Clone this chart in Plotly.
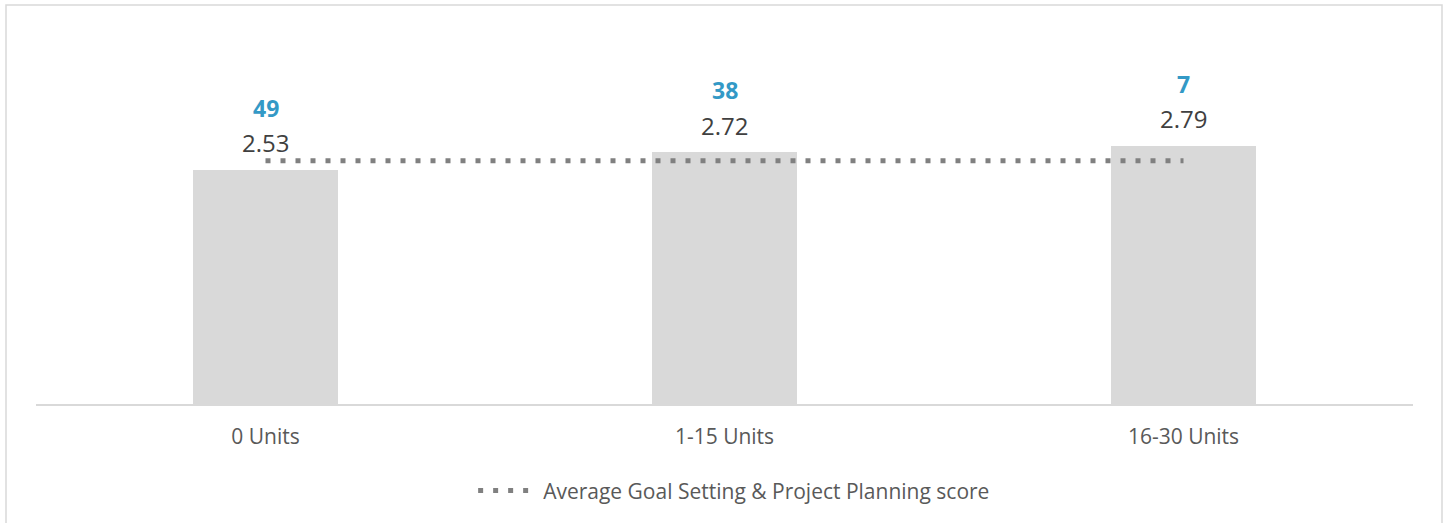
import plotly.graph_objects as go

categories = ["0 Units", "1-15 Units", "16-30 Units"]
scores = [2.53, 2.72, 2.79]
counts = [49, 38, 7]
avg_score = [2.63, 2.63, 2.63]
legend_name = "Average Goal Setting & Project Planning score"

FONT = "Open Sans"
W, H = 1448, 523
L, R, T, B = 36, 35, 34, 119

fig = go.Figure()
fig.add_trace(go.Bar(
    x=categories, y=scores, width=0.314,
    marker=dict(color="#d9d9d9", line=dict(width=0)),
    showlegend=False, hoverinfo="skip",
))
fig.add_trace(go.Scatter(
    x=categories, y=avg_score, mode="lines",
    line=dict(color="#808080", width=5, dash="5px,10px"),
    name=legend_name, showlegend=True,
))

for c, s, n in zip(categories, scores, counts):
    fig.add_annotation(x=c, y=s, text=f"{s:.2f}", showarrow=False,
                       yanchor="middle", yshift=27,
                       font=dict(family=FONT, size=24, color="#404040"))
    fig.add_annotation(x=c, y=s, text=f"<b>{n}</b>", showarrow=False,
                       yanchor="middle", yshift=62,
                       font=dict(family=FONT, size=23, color="#3399C6"))

pw = W - L - R
ph = H - T - B
fig.add_shape(type="rect", xref="paper", yref="paper",
              x0=(6 - L) / pw, x1=(1442 - L) / pw,
              y0=-1.0, y1=(404 - 5) / ph,
              line=dict(color="#d9d9d9", width=1.5), fillcolor="rgba(0,0,0,0)",
              layer="below")

fig.update_layout(
    width=W, height=H,
    margin=dict(l=L, r=R, t=T, b=B),
    paper_bgcolor="white", plot_bgcolor="white",
    font=dict(family=FONT, color="#595959"),
    bargap=0,
    xaxis=dict(showgrid=False, zeroline=False, showline=True,
               linecolor="#d9d9d9", linewidth=1.5, ticks="",
               ticklabelstandoff=13,
               tickfont=dict(family=FONT, size=21, color="#595959"),
               fixedrange=True),
    yaxis=dict(range=[0, 4.0], visible=False, fixedrange=True),
    legend=dict(orientation="h", x=0.507, xanchor="center", y=-0.235,
                yanchor="middle", itemwidth=60,
                font=dict(family=FONT, size=21, color="#595959")),
    showlegend=True,
)

fig.write_html("out.html", config={"displayModeBar": False},
               post_script="document.body.style.margin='0';document.body.style.overflow='hidden';")
